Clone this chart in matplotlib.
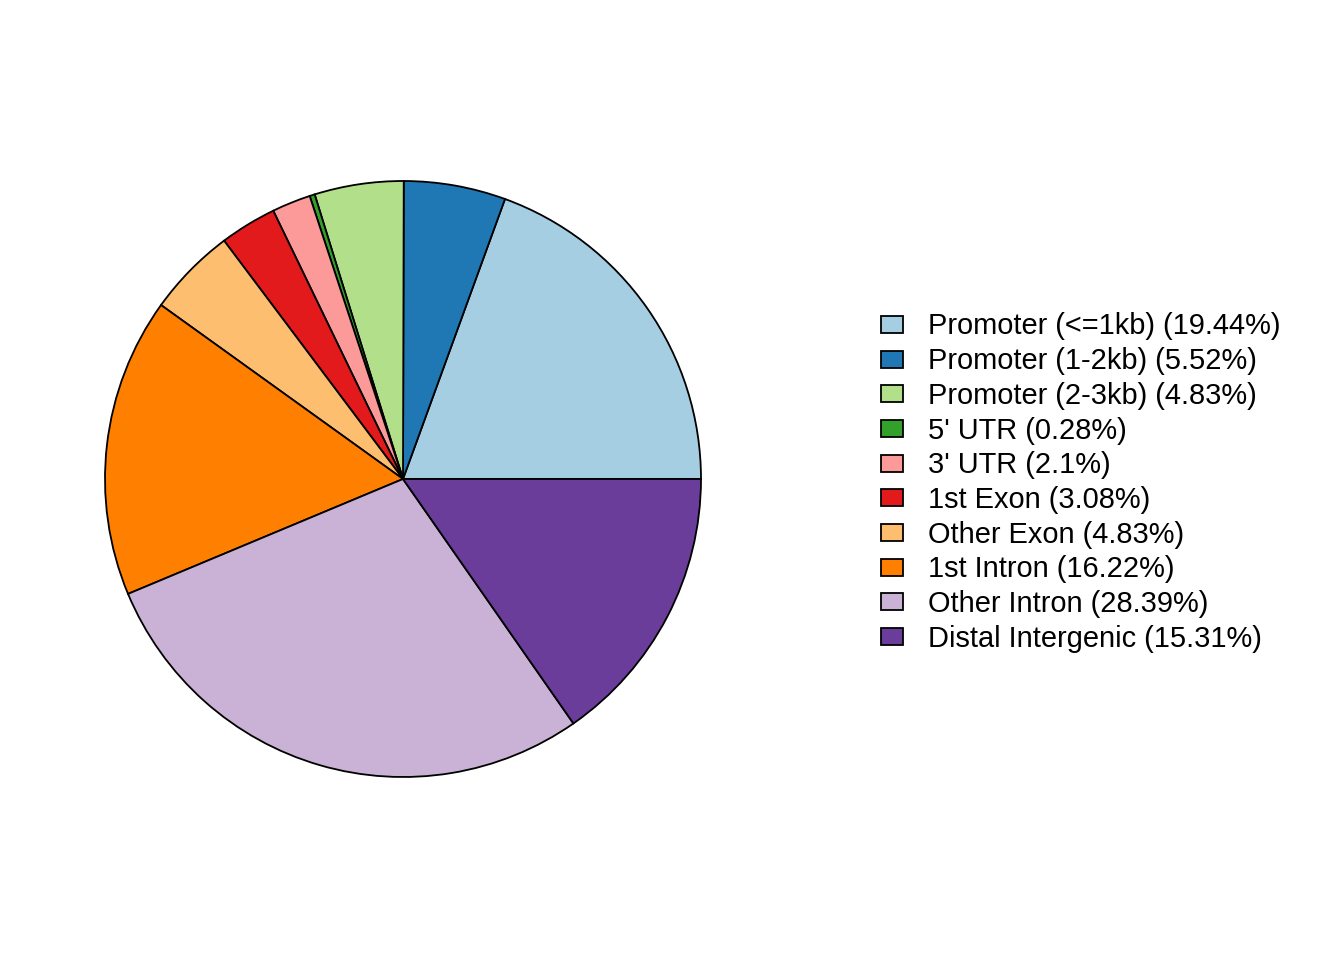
import matplotlib
matplotlib.use("Agg")
import matplotlib.pyplot as plt
from matplotlib.patches import Rectangle

categories = ["Promoter (<=1kb)", "Promoter (1-2kb)", "Promoter (2-3kb)", "5' UTR",
              "3' UTR", "1st Exon", "Other Exon", "1st Intron", "Other Intron",
              "Distal Intergenic"]
percent = [19.44, 5.52, 4.83, 0.28, 2.1, 3.08, 4.83, 16.22, 28.39, 15.31]
colors = ["#A6CEE3", "#1F78B4", "#B2DF8A", "#33A02C", "#FB9A99", "#E31A1C",
          "#FDBF6F", "#FF7F00", "#CAB2D6", "#6A3D9A"]
labels = [f"{c} ({p:g}%)" for c, p in zip(categories, percent)]

W, H = 1344, 960
fig = plt.figure(figsize=(W / 100, H / 100), dpi=100)
cx, cy, r = 403, 479, 298
ax = fig.add_axes([(cx - r) / W, (H - cy - r) / H, 2 * r / W, 2 * r / H])
ax.pie(percent, colors=colors, startangle=0, counterclock=True, radius=1,
       wedgeprops=dict(edgecolor="black", linewidth=1.3, antialiased=True))
ax.set_xlim(-1, 1)
ax.set_ylim(-1, 1)
ax.set_aspect("equal")
ax.axis("off")

# legend
lax = fig.add_axes([0, 0, 1, 1])
lax.set_xlim(0, W)
lax.set_ylim(H, 0)
lax.axis("off")
y0, dy = 325, 34.67
for i, (lab, col) in enumerate(zip(labels, colors)):
    y = y0 + i * dy
    lax.add_patch(Rectangle((881, y - 9), 22, 17, facecolor=col, edgecolor="black", lw=1.3))
    lax.text(928, y + 1.5, lab, fontsize=20.9, family="Liberation Sans", va="center", ha="left")

fig.savefig("out.png", dpi=100)
